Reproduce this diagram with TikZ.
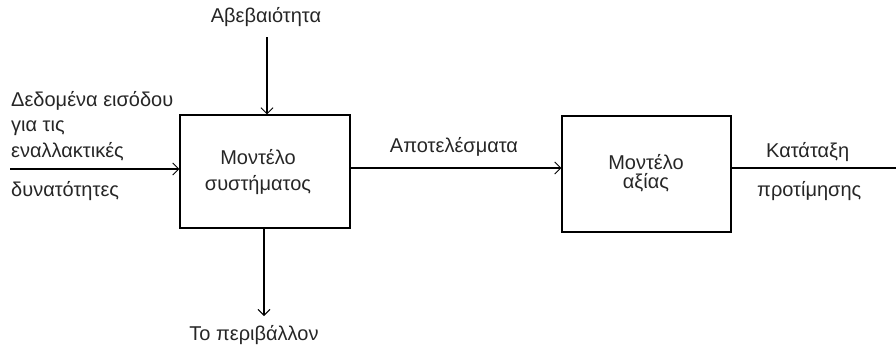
\documentclass[tikz,border=0pt]{standalone}
\usepackage{fontspec}
\setmainfont{Liberation Sans}
\usetikzlibrary{arrows.meta}
\begin{document}
\begin{tikzpicture}[x=1pt,y=-1pt,
  box/.style={draw,line width=1.4pt,inner sep=0pt},
  arr/.style={line width=1.2pt,-{Straight Barb[length=6pt,width=12pt,line width=0.9pt]}},
  plain/.style={line width=1.2pt},
  lbl/.style={inner sep=0pt,font=\fontsize{20}{24}\selectfont,text=black!85}]
\useasboundingbox (0,0) rectangle (896,349);
\node[box,minimum width=170pt,minimum height=113pt] (b1) at (265,171.5) {};
\node[box,minimum width=169pt,minimum height=116pt] (b2) at (646.5,174) {};
\node[lbl] (b1a) at (258,157) {Μοντέλο};
\node[lbl] (b1b) at (258,185) {συστήματος};
\node[lbl] (b2a) at (646,162) {Μοντέλο};
\node[lbl] (b2b) at (646,183) {αξίας};
\node[lbl] (unc) at (266,17) {Αβεβαιότητα};
\node[lbl] (env) at (254,335) {Το περιβάλλον};
\node[lbl,anchor=west] (in1) at (11,101) {Δεδομένα εισόδου};
\node[lbl,anchor=west] (in2) at (11,128) {για τις};
\node[lbl,anchor=west] (in3) at (11,152) {εναλλακτικές};
\node[lbl,anchor=west] (in4) at (11,191) {δυνατότητες};
\node[lbl] (res) at (454,147) {Αποτελέσματα};
\node[lbl,anchor=west] (rk1) at (766,152) {Κατάταξη};
\node[lbl,anchor=west] (rk2) at (757,191) {προτίμησης};
\coordinate (t) at (267,37);
\coordinate (d) at (264,316);
\coordinate (i) at (10,169);
\coordinate (m) at (456,168);
\coordinate (o) at (896,168);
\draw[arr] (t) -- (t |- b1.north);
\draw[arr] (d |- b1.south) -- (d);
\draw[arr] (i) -- (i -| b1.west);
\draw[arr] (m -| b1.east) -- (m -| b2.west);
\draw[plain] (o -| b2.east) -- (o);
\end{tikzpicture}
\end{document}
